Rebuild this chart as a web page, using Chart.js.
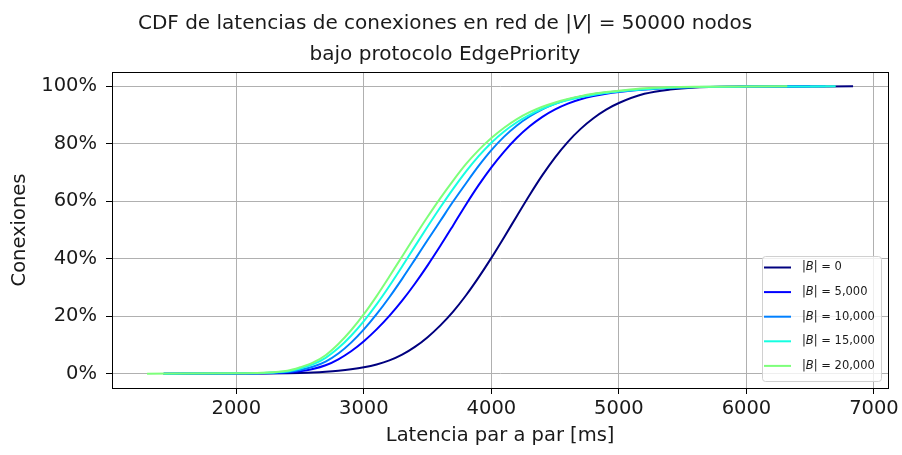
<!DOCTYPE html>
<html lang="es">
<head>
<meta charset="utf-8">
<title>CDF de latencias</title>
<script src="https://cdn.jsdelivr.net/npm/chart.js@4.4.0/dist/chart.umd.min.js"></script>
<style>
  html, body { margin: 0; padding: 0; background: #fff; }
  canvas { display: block; }
</style>
</head>
<body>
<canvas id="cdf" width="902" height="455"></canvas>
<script>
// Latencia (ms) at which every CDF is sampled
const latencyMs = [2000, 2200, 2400, 2500, 2600, 2700, 2800, 2900, 3000, 3100, 3200, 3300, 3400, 3500,
  3600, 3700, 3800, 3900, 4000, 4100, 4200, 4300, 4400, 4500, 4600, 4700, 4800, 4900, 5000, 5200, 5400,
  5600, 6000];

// Cumulative share of connections (%) for each |B|
const cdfB0 = [0.02, 0.06, 0.15, 0.25, 0.4, 0.65, 1.0, 1.5, 2.2, 3.2, 4.6, 6.6, 9.3, 12.7,
  16.8, 21.6, 27.2, 33.5, 40.3, 47.5, 54.9, 62.2, 69.1, 75.3, 80.7, 85.2, 88.9, 91.9, 94.2, 97.4, 98.9,
  99.6, 99.93];
const cdfB5000 = [0.04, 0.12, 0.4, 0.8, 1.6, 2.9, 5.0, 7.8, 11.3, 15.4, 20.1, 25.4, 31.3, 37.7,
  44.5, 51.6, 58.8, 65.6, 71.8, 77.3, 82.1, 86.1, 89.4, 92.0, 94.0, 95.5, 96.6, 97.4, 98.0, 98.9, 99.45,
  99.75, 99.92];
const cdfB10000 = [0.08, 0.2, 0.6, 1.3, 2.4, 4.2, 7.0, 10.8, 15.4, 20.7, 26.6, 33.0, 39.7, 46.5,
  53.2, 59.9, 66.2, 72.3, 77.8, 82.5, 86.4, 89.5, 92.0, 93.9, 95.4, 96.5, 97.3, 97.9, 98.3, 99.0, 99.5,
  99.75, 99.92];
const cdfB15000 = [0.1, 0.25, 0.8, 1.8, 3.2, 5.5, 8.9, 13.2, 18.3, 24.1, 30.5, 37.3, 44.3, 51.2,
  57.9, 64.3, 70.3, 75.7, 80.4, 84.3, 87.5, 90.1, 92.2, 93.9, 95.2, 96.2, 97.0, 97.7, 98.2, 99.0, 99.5,
  99.75, 99.92];
const cdfB20000 = [0.1, 0.3, 1.0, 2.2, 3.8, 6.4, 10.3, 15.1, 20.7, 27.0, 33.8, 40.8, 47.8, 54.6,
  61.1, 67.2, 72.9, 77.8, 82.0, 85.6, 88.6, 91.0, 92.9, 94.4, 95.6, 96.6, 97.4, 98.0, 98.5, 99.35, 99.7,
  99.85, 99.96];

// Fastest and slowest observed latency of each series (CDF = 0 and 100 there)
const minLatency = [1430, 1430, 1430, 1430, 1300];
const maxLatency = [6836, 6500, 6620, 6700, 6320];

const seriesLabels = ['|B| = 0', '|B| = 5,000', '|B| = 10,000', '|B| = 15,000', '|B| = 20,000'];
const seriesValues = [cdfB0, cdfB5000, cdfB10000, cdfB15000, cdfB20000];
const seriesColors = ['#00007f', '#0000ff', '#0080ff', '#15ffe1', '#7dff7a'];

const xTicks = [2000, 3000, 4000, 5000, 6000, 7000];
const yTicks = [0, 20, 40, 60, 80, 100];

// title lines; single capital letters between bars are set in italics
const titleLines = ['CDF de latencias de conexiones en red de |V| = 50000 nodos', 'bajo protocolo EdgePriority'];

const FONT = 'DejaVu Sans';
const TEXT = '#1a1a1a';

function toPoints(values, i) {
  const pts = [{ x: minLatency[i], y: 0 }];
  latencyMs.forEach((ms, k) => pts.push({ x: ms, y: values[k] }));
  pts.push({ x: maxLatency[i], y: 100 });
  return pts;
}

// split "|V| = 5" into upright / italic pieces
function mathPieces(text) {
  return text.split(/\|([A-Z])\|/).map((part, k) =>
    k % 2 ? [{ t: '|', it: false }, { t: part, it: true }, { t: '|', it: false }] : [{ t: part, it: false }]
  ).flat().filter(p => p.t.length);
}

function drawPieces(ctx, pieces, x, y, size, align) {
  const fontOf = it => (it ? 'italic ' : '') + size + 'px "' + FONT + '"';
  let width = 0;
  pieces.forEach(p => { ctx.font = fontOf(p.it); width += ctx.measureText(p.t).width; });
  let cx = align === 'center' ? x - width / 2 : x;
  ctx.textAlign = 'left';
  pieces.forEach(p => {
    ctx.font = fontOf(p.it);
    ctx.fillText(p.t, cx, y);
    cx += ctx.measureText(p.t).width;
  });
}

// two-line title above the plot
const mathTitle = {
  id: 'mathTitle',
  afterDraw(chart) {
    const { ctx } = chart;
    ctx.save();
    ctx.fillStyle = TEXT;
    ctx.textBaseline = 'middle';
    const cx = (chart.width - 12) / 2;
    titleLines.forEach((line, i) => drawPieces(ctx, mathPieces(line), cx, 23.5 + i * 31, 20, 'center'));
    ctx.restore();
  }
};

// black box around the plotting area
const frame = {
  id: 'frame',
  afterDatasetsDraw(chart) {
    const { ctx, chartArea: a } = chart;
    ctx.save();
    ctx.strokeStyle = '#000';
    ctx.lineWidth = 1;
    ctx.strokeRect(Math.round(a.left) + 0.5, Math.round(a.top) + 0.5,
      Math.round(a.right - a.left), Math.round(a.bottom - a.top));
    ctx.restore();
  }
};

// legend boxed in the lower right corner, B in italics
const cornerLegend = {
  id: 'cornerLegend',
  afterDatasetsDraw(chart) {
    const { ctx, chartArea: a } = chart;
    const w = 119, h = 125;
    const x0 = Math.round(a.right) - 7 - w;
    const y0 = Math.round(a.bottom) - 7 - h;
    ctx.save();
    ctx.beginPath();
    ctx.roundRect(x0 + 0.5, y0 + 0.5, w, h, 3);
    ctx.fillStyle = 'rgba(255,255,255,0.8)';
    ctx.fill();
    ctx.strokeStyle = '#d0d0d0';
    ctx.lineWidth = 1;
    ctx.stroke();
    ctx.textBaseline = 'middle';
    ctx.fillStyle = TEXT;
    chart.data.datasets.forEach((ds, i) => {
      const y = y0 + 11.5 + i * 24.6;
      ctx.strokeStyle = ds.borderColor;
      ctx.lineWidth = 2;
      ctx.beginPath();
      ctx.moveTo(x0 + 2, y);
      ctx.lineTo(x0 + 29, y);
      ctx.stroke();
      drawPieces(ctx, mathPieces(ds.label), x0 + 40, y, 11.5, 'left');
    });
    ctx.restore();
  }
};

const gridStyle = { color: '#b0b0b0', lineWidth: 1, tickColor: '#000', tickLength: 6, drawTicks: true };
const labelFont = { family: FONT, size: 19.5 };

new Chart(document.getElementById('cdf'), {
  type: 'line',
  data: {
    datasets: seriesValues.map((values, i) => ({
      label: seriesLabels[i],
      data: toPoints(values, i),
      borderColor: seriesColors[i],
      backgroundColor: seriesColors[i],
      borderWidth: 2,
      pointRadius: 0,
      fill: false,
      cubicInterpolationMode: 'monotone',
      order: seriesValues.length - i
    }))
  },
  options: {
    responsive: false,
    devicePixelRatio: 1,
    animation: false,
    layout: { padding: { left: 0, right: 12, top: 72, bottom: 0 } },
    plugins: {
      legend: { display: false },
      tooltip: { enabled: false },
      title: { display: false }
    },
    scales: {
      x: {
        type: 'linear',
        min: 1025,
        max: 7112,
        afterBuildTicks: s => { s.ticks = xTicks.map(v => ({ value: v })); },
        afterFit: s => { s.height = 67; },
        ticks: { color: TEXT, font: labelFont, padding: 3, maxRotation: 0, callback: v => String(v) },
        grid: gridStyle,
        border: { color: '#000', width: 1 },
        title: {
          display: true,
          text: 'Latencia par a par [ms]',
          color: TEXT,
          font: labelFont,
          padding: { top: 0, bottom: 7 }
        }
      },
      y: {
        type: 'linear',
        min: -5,
        max: 105,
        afterBuildTicks: s => { s.ticks = yTicks.map(v => ({ value: v })); },
        afterFit: s => { s.width = 112; },
        ticks: { color: TEXT, font: labelFont, padding: 9, callback: v => v + '%' },
        grid: gridStyle,
        border: { color: '#000', width: 1 },
        title: {
          display: true,
          text: 'Conexiones',
          color: TEXT,
          font: labelFont,
          padding: { top: 8, bottom: 0 }
        }
      }
    }
  },
  plugins: [mathTitle, frame, cornerLegend]
});
</script>
</body>
</html>
